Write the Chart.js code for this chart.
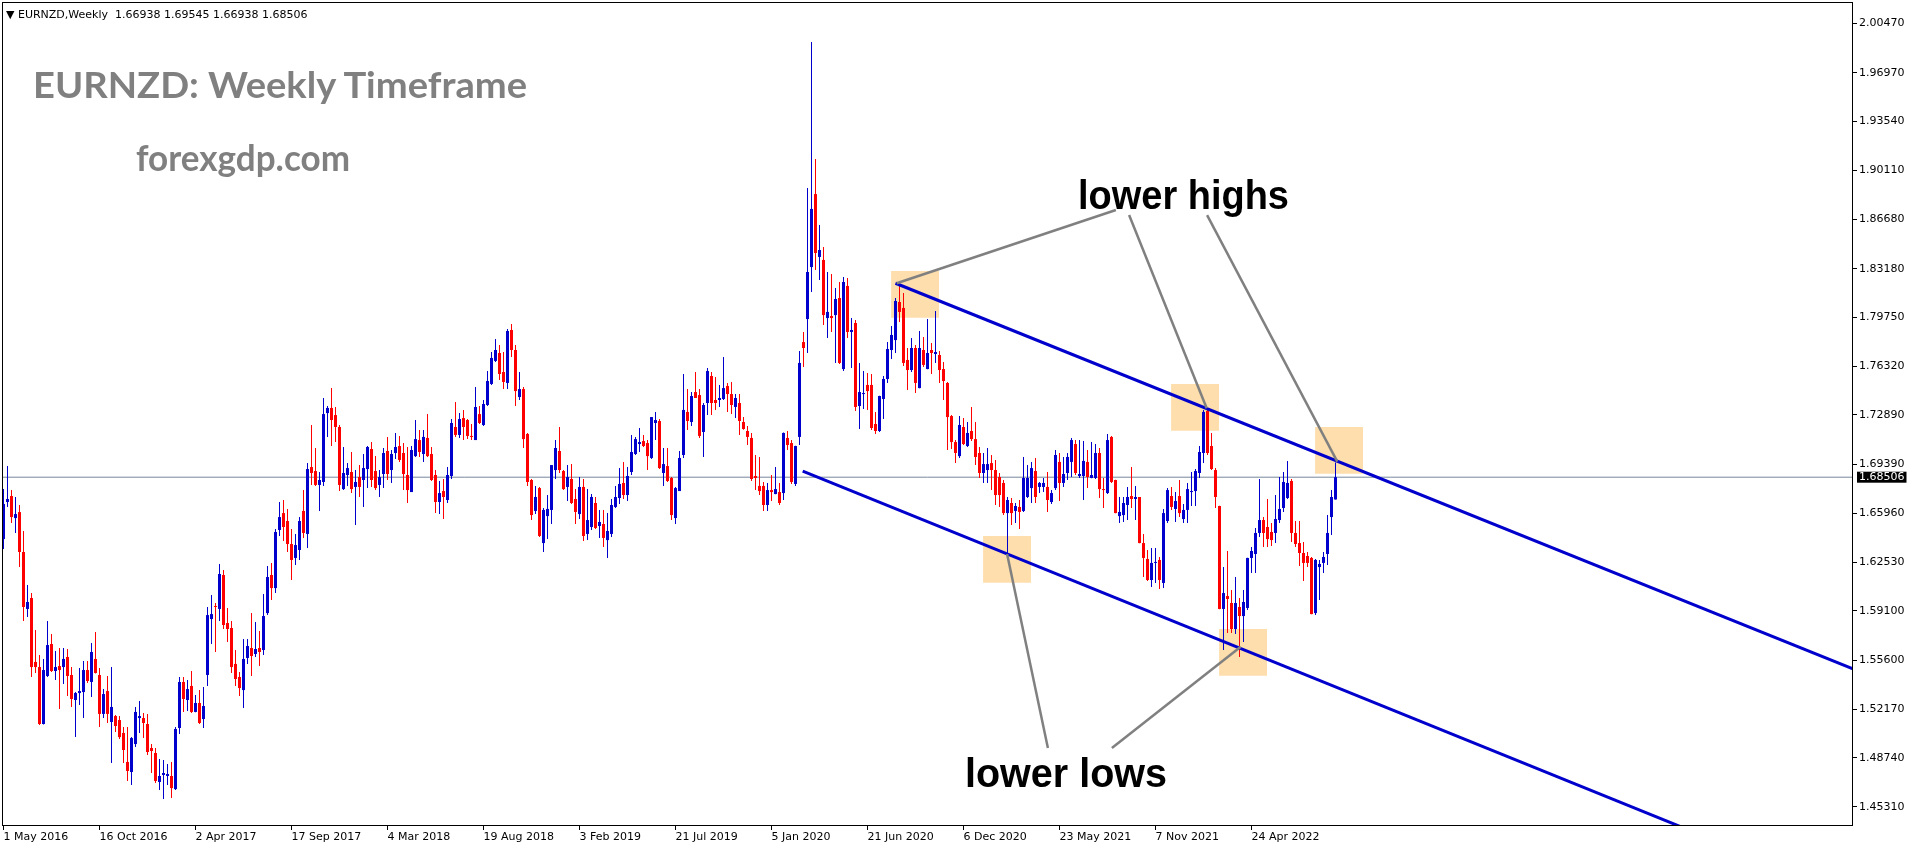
<!DOCTYPE html>
<html>
<head>
<meta charset="utf-8">
<title>EURNZD Weekly</title>
<script src="https://cdn.jsdelivr.net/npm/chart.js@4.4.1/dist/chart.umd.min.js"></script>
<style>
html,body{margin:0;padding:0;background:#fff;overflow:hidden;}
#wrap{position:relative;width:1916px;height:850px;background:#fff;}
#c{position:absolute;left:0;top:0;}
.t{position:absolute;white-space:nowrap;transform-origin:0 0;line-height:1;margin:0;}
#hdr{left:6px;top:8px;font:11px "DejaVu Sans",sans-serif;color:#000;}
#title{left:33px;top:62px;font:700 36px Lato,sans-serif;color:#808080;}
#site{left:136px;top:135px;font:700 36px Lato,sans-serif;color:#808080;}
#lh{left:1078px;top:172px;font:700 41px "Liberation Sans",Arial,sans-serif;color:#000;}
#ll{left:965px;top:750px;font:700 41px "Liberation Sans",Arial,sans-serif;color:#000;}
</style>
</head>
<body>
<div id="wrap">
<canvas id="c" width="1916" height="850"></canvas>
<div class="t" id="hdr">&#9660; EURNZD,Weekly&nbsp; 1.66938 1.69545 1.66938 1.68506</div>
<div class="t" id="title">EURNZD: Weekly Timeframe</div>
<div class="t" id="site">forexgdp.com</div>
<div class="t" id="lh">lower highs</div>
<div class="t" id="ll">lower lows</div>
</div>
<script>
// ---- weekly candles, first bar = week of 1 May 2016 ----
const open = [
1.6415,1.6676,1.6718,1.6563,1.6605,1.6324,1.5923,1.6000,1.5550,1.5514,
1.5113,1.5451,1.5676,1.5486,1.5521,1.5514,1.5585,1.5458,1.5282,1.5331,
1.5338,1.5493,1.5409,1.5571,1.5458,1.5184,1.5345,1.5127,1.5169,1.5141,
1.5050,1.4846,1.4775,1.4972,1.5155,1.5155,1.5113,1.4944,1.4909,1.4705,
1.4754,1.4747,1.4747,1.4655,1.5085,1.5409,1.5282,1.5381,1.5198,1.5261,
1.5148,1.5458,1.5852,1.5944,1.5923,1.6162,1.5824,1.5789,1.5536,1.5444,
1.5352,1.5578,1.5648,1.5606,1.5648,1.5634,1.5894,1.6162,1.6070,1.6479,
1.6598,1.6542,1.6380,1.6282,1.6338,1.6613,1.6451,1.6922,1.6894,1.6796,
1.6817,1.7302,1.7338,1.7288,1.7204,1.6767,1.6866,1.6887,1.6782,1.6852,
1.6831,1.6908,1.7049,1.6894,1.6796,1.6873,1.7035,1.6901,1.7021,1.7070,
1.7021,1.6866,1.6746,1.6999,1.7112,1.7014,1.7127,1.7014,1.6866,1.6676,
1.6753,1.6690,1.6859,1.7204,1.7148,1.7267,1.7253,1.7141,1.7112,1.7295,
1.7218,1.7359,1.7507,1.7669,1.7725,1.7591,1.7514,1.7887,1.7746,1.7415,
1.7471,1.7155,1.6831,1.6613,1.6774,1.6387,1.6577,1.6620,1.6901,1.7035,
1.6894,1.6782,1.6838,1.6697,1.6591,1.6782,1.6451,1.6500,1.6669,1.6507,
1.6521,1.6408,1.6451,1.6641,1.6704,1.6810,1.6725,1.6887,1.7014,1.7084,
1.7105,1.7091,1.6986,1.7232,1.7246,1.6880,1.6929,1.6845,1.6563,1.6753,
1.7007,1.7310,1.7239,1.7450,1.7429,1.7169,1.7373,1.7563,1.7394,1.7394,
1.7401,1.7493,1.7436,1.7345,1.7373,1.7239,1.7176,1.7127,1.6859,1.6789,
1.6789,1.6655,1.6760,1.6732,1.6746,1.6739,1.7127,1.7091,1.6803,1.7134,
1.7802,1.7964,1.8330,1.8844,1.8401,1.8380,1.7971,1.7985,1.7992,1.8112,
1.7612,1.8197,1.7873,1.7936,1.7352,1.7436,1.7500,1.7500,1.7225,1.7176,
1.7401,1.7542,1.7746,1.7816,1.8084,1.8042,1.7676,1.7605,1.7760,1.7478,
1.7746,1.7612,1.7746,1.7718,1.7711,1.7612,1.7514,1.7281,1.7098,1.6999,
1.7204,1.7070,1.7176,1.7119,1.7021,1.6880,1.6901,1.6950,1.6901,1.6852,
1.6810,1.6598,1.6669,1.6613,1.6641,1.6613,1.6711,1.6774,1.6894,1.6782,
1.6782,1.6782,1.6676,1.6774,1.6958,1.6810,1.6880,1.6958,1.7084,1.6859,
1.6859,1.6958,1.6845,1.6845,1.7021,1.6767,1.6739,1.7134,1.6831,1.6577,
1.6584,1.6655,1.6718,1.6697,1.6711,1.6387,1.6275,1.6127,1.6247,1.6268,
1.6106,1.6542,1.6718,1.6627,1.6718,1.6556,1.6620,1.6746,1.6753,1.6880,
1.7021,1.7317,1.7070,1.6901,1.6648,1.5923,1.6014,1.5965,1.5782,1.5937,
1.5873,1.5930,1.6282,1.6310,1.6458,1.6549,1.6500,1.6465,1.6458,1.6549,
1.6634,1.6704,1.6824,1.6458,1.6387,1.6317,1.6296,1.6282,1.5894,1.6218,
1.6247,1.6310,1.6570,1.66938];
const high = [
1.6767,1.6929,1.6760,1.6711,1.6655,1.6472,1.6092,1.6035,1.5775,1.5599,
1.5571,1.5838,1.5747,1.5627,1.5648,1.5648,1.5641,1.5514,1.5338,1.5507,
1.5557,1.5557,1.5683,1.5761,1.5507,1.5359,1.5451,1.5514,1.5177,1.5169,
1.5092,1.5092,1.5021,1.5233,1.5275,1.5191,1.5184,1.4972,1.4944,1.4867,
1.4860,1.4832,1.4846,1.5092,1.5444,1.5444,1.5423,1.5486,1.5317,1.5352,
1.5373,1.5937,1.6021,1.5965,1.6240,1.6197,1.5930,1.5838,1.5634,1.5479,
1.5711,1.5711,1.5894,1.5831,1.5768,1.6028,1.6225,1.6247,1.6486,1.6676,
1.6690,1.6627,1.6486,1.6451,1.6570,1.6760,1.6950,1.7218,1.7056,1.6887,
1.7408,1.7352,1.7478,1.7345,1.7218,1.7063,1.6950,1.7028,1.6901,1.6936,
1.7014,1.7070,1.7098,1.6999,1.6901,1.7056,1.7134,1.7042,1.7162,1.7141,
1.7091,1.7063,1.7070,1.7253,1.7183,1.7183,1.7295,1.7063,1.6901,1.6824,
1.6838,1.6922,1.7260,1.7380,1.7302,1.7324,1.7260,1.7225,1.7486,1.7352,
1.7394,1.7598,1.7732,1.7823,1.7781,1.7732,1.7894,1.7929,1.7781,1.7591,
1.7486,1.7162,1.6838,1.6789,1.6782,1.6634,1.6725,1.6936,1.7112,1.7204,
1.6901,1.6936,1.6943,1.6767,1.6852,1.6838,1.6767,1.6732,1.6711,1.6620,
1.6620,1.6598,1.6697,1.6789,1.6915,1.6958,1.6922,1.7148,1.7134,1.7197,
1.7148,1.7112,1.7274,1.7310,1.7260,1.7056,1.7056,1.6852,1.6782,1.7035,
1.7577,1.7471,1.7450,1.7591,1.7471,1.7373,1.7619,1.7591,1.7556,1.7500,
1.7697,1.7514,1.7521,1.7436,1.7436,1.7274,1.7211,1.7162,1.7007,1.6993,
1.6817,1.6810,1.6866,1.6922,1.6810,1.7165,1.7176,1.7112,1.7072,1.7739,
1.7873,1.8886,1.9914,1.9091,1.8626,1.8471,1.8295,1.8281,1.8182,1.8225,
1.8260,1.8253,1.7971,1.7957,1.7655,1.7598,1.7584,1.7577,1.7310,1.7424,
1.7563,1.7802,1.7915,1.8112,1.8204,1.8147,1.7760,1.7830,1.7781,1.7880,
1.7837,1.7964,1.7795,1.8021,1.7739,1.7662,1.7521,1.7288,1.7112,1.7281,
1.7267,1.7239,1.7345,1.7239,1.7063,1.7021,1.7056,1.7007,1.6972,1.6880,
1.6831,1.6711,1.6704,1.6669,1.6690,1.6993,1.6936,1.6958,1.6986,1.6817,
1.6845,1.6887,1.6760,1.7042,1.7021,1.6993,1.7021,1.7127,1.7112,1.7112,
1.7105,1.7042,1.7098,1.7084,1.7056,1.6845,1.7155,1.7141,1.6832,1.6711,
1.6711,1.6782,1.6922,1.6789,1.6712,1.6451,1.6338,1.6352,1.6352,1.6289,
1.6627,1.6774,1.6782,1.6746,1.6831,1.6662,1.6810,1.6887,1.6908,1.7070,
1.7324,1.7324,1.7162,1.6915,1.6650,1.6218,1.6331,1.6056,1.6148,1.6000,
1.6056,1.6284,1.6359,1.6493,1.6838,1.6570,1.6697,1.6528,1.6725,1.6852,
1.6887,1.6965,1.6838,1.6542,1.6542,1.6394,1.6324,1.6289,1.6275,1.6268,
1.6324,1.6584,1.6760,1.69545];
const low = [
1.6345,1.6641,1.6528,1.6458,1.6218,1.5838,1.5866,1.5444,1.5472,1.5106,
1.5110,1.5444,1.5479,1.5423,1.5219,1.5395,1.5310,1.5233,1.5021,1.5247,
1.5155,1.5402,1.5303,1.5468,1.5092,1.5155,1.5120,1.4839,1.5057,1.5007,
1.4839,1.4712,1.4684,1.4951,1.5050,1.5014,1.4895,1.4768,1.4698,1.4648,
1.4585,1.4684,1.4592,1.4648,1.5043,1.5198,1.5205,1.5191,1.5195,1.5113,
1.5085,1.5381,1.5676,1.5620,1.5838,1.5782,1.5690,1.5472,1.5381,1.5310,
1.5226,1.5536,1.5451,1.5585,1.5521,1.5599,1.5880,1.5986,1.6035,1.6437,
1.6401,1.6324,1.6127,1.6233,1.6268,1.6423,1.6352,1.6796,1.6789,1.6613,
1.6789,1.7134,1.7070,1.7098,1.6753,1.6760,1.6789,1.6739,1.6514,1.6711,
1.6641,1.6774,1.6782,1.6760,1.6711,1.6774,1.6831,1.6810,1.6979,1.6958,
1.6760,1.6669,1.6746,1.6993,1.6993,1.6958,1.6993,1.6824,1.6598,1.6591,
1.6556,1.6669,1.6838,1.7134,1.7127,1.7112,1.7119,1.7112,1.7112,1.7225,
1.7211,1.7352,1.7500,1.7662,1.7535,1.7471,1.7471,1.7697,1.7352,1.7394,
1.7056,1.6789,1.6549,1.6591,1.6430,1.6324,1.6415,1.6521,1.6838,1.6880,
1.6760,1.6683,1.6662,1.6521,1.6556,1.6401,1.6408,1.6479,1.6486,1.6423,
1.6359,1.6282,1.6430,1.6634,1.6662,1.6697,1.6683,1.6866,1.7007,1.7028,
1.7063,1.6901,1.6979,1.7112,1.6908,1.6789,1.6817,1.6549,1.6521,1.6753,
1.6986,1.7183,1.7211,1.7408,1.7127,1.6993,1.7288,1.7288,1.7324,1.7345,
1.7394,1.7310,1.7295,1.7267,1.7148,1.7185,1.7077,1.6824,1.6760,1.6725,
1.6613,1.6613,1.6683,1.6730,1.6655,1.6690,1.7042,1.6803,1.6789,1.7077,
1.7626,1.7725,1.8154,1.8309,1.8239,1.7922,1.7830,1.7873,1.7655,1.7648,
1.7598,1.7830,1.7619,1.7317,1.7190,1.7331,1.7324,1.7183,1.7155,1.7169,
1.7260,1.7514,1.7683,1.7725,1.7943,1.7634,1.7464,1.7591,1.7443,1.7476,
1.7626,1.7610,1.7577,1.7655,1.7514,1.7394,1.7042,1.7049,1.6950,1.6986,
1.7077,1.7063,1.7105,1.6936,1.6845,1.6810,1.6810,1.6760,1.6655,1.6641,
1.6584,1.6303,1.6514,1.6528,1.6486,1.6606,1.6704,1.6669,1.6669,1.6739,
1.6746,1.6606,1.6662,1.6760,1.6683,1.6782,1.6831,1.6852,1.6866,1.6845,
1.6690,1.6774,1.6843,1.6838,1.6704,1.6634,1.6732,1.6810,1.6596,1.6528,
1.6535,1.6549,1.6634,1.6549,1.6385,1.6148,1.6120,1.6077,1.6106,1.6063,
1.6070,1.6528,1.6620,1.6535,1.6570,1.6528,1.6528,1.6648,1.6648,1.6845,
1.6950,1.7007,1.6901,1.6634,1.5921,1.5634,1.5754,1.5754,1.5747,1.5585,
1.5690,1.5916,1.6176,1.6176,1.6430,1.6359,1.6359,1.6366,1.6387,1.6528,
1.6606,1.6697,1.6394,1.6359,1.6225,1.6120,1.6218,1.5885,1.5880,1.5986,
1.6176,1.6233,1.6444,1.66938];
const close = [
1.6662,1.6697,1.6570,1.6591,1.6324,1.5937,1.5972,1.5514,1.5514,1.5113,
1.5493,1.5669,1.5486,1.5514,1.5493,1.5571,1.5451,1.5289,1.5331,1.5345,
1.5493,1.5416,1.5620,1.5472,1.5184,1.5324,1.5184,1.5233,1.5099,1.5021,
1.4930,1.4782,1.5014,1.5198,1.5169,1.5120,1.4916,1.4923,1.4712,1.4747,
1.4768,1.4761,1.4662,1.5078,1.5409,1.5289,1.5359,1.5198,1.5261,1.5120,
1.5240,1.5880,1.5887,1.5937,1.6169,1.5810,1.5782,1.5514,1.5430,1.5366,
1.5571,1.5662,1.5592,1.5641,1.5620,1.5873,1.6148,1.6070,1.6465,1.6570,
1.6500,1.6380,1.6268,1.6373,1.6542,1.6458,1.6908,1.6880,1.6796,1.6831,
1.7295,1.7338,1.7253,1.7204,1.6796,1.6880,1.6915,1.6767,1.6817,1.6782,
1.6915,1.7063,1.6831,1.6774,1.6852,1.7021,1.6873,1.7014,1.7063,1.6972,
1.6873,1.6760,1.7042,1.7119,1.7028,1.7134,1.6999,1.6831,1.6676,1.6739,
1.6711,1.6866,1.7232,1.7148,1.7260,1.7204,1.7141,1.7134,1.7345,1.7232,
1.7366,1.7528,1.7690,1.7746,1.7577,1.7521,1.7880,1.7746,1.7457,1.7471,
1.7119,1.6817,1.6584,1.6711,1.6437,1.6620,1.6627,1.6936,1.7056,1.6901,
1.6767,1.6852,1.6669,1.6606,1.6782,1.6437,1.6549,1.6711,1.6493,1.6535,
1.6423,1.6472,1.6655,1.6711,1.6803,1.6725,1.6859,1.7028,1.7119,1.7098,
1.7070,1.6999,1.7274,1.7253,1.6915,1.6943,1.6824,1.6584,1.6774,1.6986,
1.7324,1.7246,1.7422,1.7408,1.7141,1.7359,1.7598,1.7373,1.7373,1.7408,
1.7478,1.7436,1.7359,1.7408,1.7246,1.7190,1.7134,1.6838,1.6845,1.6753,
1.6655,1.6760,1.6746,1.6767,1.6669,1.7162,1.7077,1.6817,1.7070,1.7655,
1.7760,1.8295,1.8739,1.8429,1.8450,1.7992,1.8014,1.7971,1.8105,1.7655,
1.8225,1.7873,1.7887,1.7345,1.7450,1.7443,1.7457,1.7197,1.7176,1.7422,
1.7542,1.7753,1.7852,1.8091,1.8014,1.7655,1.7605,1.7760,1.7514,1.7760,
1.7641,1.7725,1.7725,1.7732,1.7605,1.7528,1.7274,1.7098,1.7021,1.7218,
1.7084,1.7162,1.7119,1.6993,1.6880,1.6943,1.6943,1.6901,1.6725,1.6725,
1.6598,1.6690,1.6598,1.6648,1.6606,1.6845,1.6845,1.6915,1.6711,1.6810,
1.6810,1.6690,1.6739,1.7007,1.6810,1.6873,1.6993,1.7112,1.6880,1.6873,
1.6965,1.6852,1.6866,1.7021,1.6767,1.6760,1.7112,1.6817,1.6598,1.6606,
1.6669,1.6711,1.6697,1.6711,1.6387,1.6282,1.6127,1.6247,1.6254,1.6127,
1.6598,1.6760,1.6641,1.6683,1.6598,1.6620,1.6767,1.6753,1.6894,1.7028,
1.7310,1.7021,1.6908,1.6711,1.5923,1.6035,1.5993,1.5782,1.5965,1.5873,
1.5972,1.6282,1.6331,1.6458,1.6549,1.6458,1.6415,1.6408,1.6556,1.6627,
1.6817,1.6810,1.6458,1.6380,1.6317,1.6247,1.6247,1.5887,1.6268,1.6240,
1.6289,1.6458,1.6711,1.68506];
const lastPrice = 1.68506;

// ---- axes ----
const dateLabels = ["1 May 2016","16 Oct 2016","2 Apr 2017","17 Sep 2017","4 Mar 2018","19 Aug 2018","3 Feb 2019","21 Jul 2019","5 Jan 2020","21 Jun 2020","6 Dec 2020","23 May 2021","7 Nov 2021","24 Apr 2022"];
const dateBarIndex = [0,24,48,72,96,120,144,168,192,216,240,264,288,312];
const priceTicks = [1.45310,1.48740,1.52170,1.55600,1.59100,1.62530,1.65960,1.69390,1.72890,1.76320,1.79750,1.83180,1.86680,1.90110,1.93540,1.96970,2.00470];
const X_MIN = -0.375, X_MAX = 462.375;
const Y_MIN = 1.4395, Y_MAX = 2.0196;

// ---- drawings (bar index, price) ----
const upperChannelX = [223.0, 470.0];
const upperChannelY = [1.8216, 1.5414];
const lowerChannelX = [199.8, 430.0];
const lowerChannelY = [1.6894, 1.4268];
const zoneX0 = [221.9, 291.9, 327.9, 303.9, 244.9];
const zoneX1 = [233.9, 303.9, 339.9, 315.9, 256.9];
const zoneLo = [1.7973, 1.7178, 1.6875, 1.5453, 1.6108];
const zoneHi = [1.8302, 1.7507, 1.7204, 1.5782, 1.6437];
const pointerX0 = [278.1, 281.4, 300.9, 261.1, 277.1];
const pointerY0 = [1.8732, 1.8696, 1.8696, 1.4944, 1.4944];
const pointerX1 = [223.3, 300.8, 333.45, 250.9, 309.3];
const pointerY1 = [1.8216, 1.7336, 1.6960, 1.6310, 1.5657];

const BULL = '#0000CD', BEAR = '#FF0000';
const idx = open.map((_, i) => i);
const wickData = idx.map(i => ({x: i, y: [low[i], high[i]]}));
const bodyData = idx.map(i => ({x: i, y: [open[i], close[i]]}));
const colorOf = i => (close[i] >= open[i] ? BULL : BEAR);

const datasets = [];
for (let k = 0; k < zoneX0.length; k++) {
  datasets.push({type:'line', data:[{x:zoneX0[k], y:zoneHi[k]}, {x:zoneX1[k], y:zoneHi[k]}],
    borderColor:'rgba(0,0,0,0)', borderWidth:0, pointRadius:0, fill:{value: zoneLo[k]},
    backgroundColor:'#FDDEAC', order:10});
}
datasets.push({type:'line', data:[{x:X_MIN, y:lastPrice}, {x:X_MAX, y:lastPrice}],
  borderColor:'#76879A', borderWidth:1, pointRadius:0, fill:false, order:9});
datasets.push({type:'bar', data:wickData, backgroundColor:c => colorOf(c.dataIndex),
  barThickness:1, grouped:false, borderWidth:0, inflateAmount:0, order:8});
datasets.push({type:'bar', data:bodyData, backgroundColor:c => colorOf(c.dataIndex),
  barThickness:3, minBarLength:1, grouped:false, borderWidth:0, inflateAmount:0, order:7});
datasets.push({type:'line', data:upperChannelX.map((x, k) => ({x, y:upperChannelY[k]})),
  borderColor:'#0000CD', borderWidth:3, pointRadius:0, fill:false, order:2});
datasets.push({type:'line', data:lowerChannelX.map((x, k) => ({x, y:lowerChannelY[k]})),
  borderColor:'#0000CD', borderWidth:3, pointRadius:0, fill:false, order:2});
for (let k = 0; k < pointerX0.length; k++) {
  datasets.push({type:'line', data:[{x:pointerX0[k], y:pointerY0[k]}, {x:pointerX1[k], y:pointerY1[k]}],
    borderColor:'#808080', borderWidth:2.5, pointRadius:0, fill:false, order:1});
}

const frame = {
  id:'frame',
  afterDatasetsDraw(chart) {
    const {ctx, chartArea:a} = chart;
    ctx.save();
    ctx.strokeStyle = '#000'; ctx.lineWidth = 1;
    ctx.strokeRect(a.left + 0.5, a.top + 0.5, a.right - a.left - 1, a.bottom - a.top - 1);
    ctx.restore();
  }
};

const axisFont = {family:'DejaVu Sans', size:11, lineHeight:1};
new Chart(document.getElementById('c'), {
  type:'bar',
  data:{datasets},
  plugins:[frame],
  options:{
    responsive:false, animation:false, devicePixelRatio:1, events:[],
    layout:{padding:{left:2, top:2, right:0, bottom:0}},
    plugins:{legend:{display:false}, tooltip:{enabled:false}},
    scales:{
      x:{type:'linear', min:X_MIN, max:X_MAX, offset:false,
        grid:{display:true, drawOnChartArea:false, drawTicks:true, tickLength:4, tickColor:'#000', offset:false},
        border:{display:false},
        ticks:{autoSkip:false, maxRotation:0, minRotation:0, align:'start', padding:2, color:'#000', font:axisFont,
          callback:(v, i) => dateLabels[i]},
        afterBuildTicks:s => { s.ticks = dateBarIndex.map(v => ({value:v})); },
        afterFit:s => { s.height = 24; s.paddingLeft = 0; s.paddingRight = 0; }
      },
      y:{type:'linear', position:'right', min:Y_MIN, max:Y_MAX,
        grid:{display:true, drawOnChartArea:false, drawTicks:true, tickLength:4,
          tickColor:c => (c.tick && c.tick.value === lastPrice ? 'rgba(0,0,0,0)' : '#000')},
        border:{display:false},
        ticks:{autoSkip:false, padding:2, font:axisFont,
          color:c => (c.tick && c.tick.value === lastPrice ? '#fff' : '#000'),
          showLabelBackdrop:c => !!(c.tick && c.tick.value === lastPrice),
          backdropColor:'#000', backdropPadding:{left:2, right:2, top:0, bottom:0},
          callback:v => Number(v).toFixed(5)},
        afterBuildTicks:s => {
          const all = priceTicks.concat([lastPrice]).sort((a, b) => a - b);
          s.ticks = all.map(v => ({value:v}));
        },
        afterFit:s => { s.width = 63; s.paddingTop = 0; s.paddingBottom = 0; }
      }
    }
  }
});

// ---- fit annotation text widths to the reference ----
const textWidths = [['title', 494], ['site', 214], ['lh', 211], ['ll', 202]];
function fitAll() {
  textWidths.forEach(([id, w]) => {
    const el = document.getElementById(id);
    el.style.transform = 'none';
    const r = el.getBoundingClientRect().width;
    if (r > 0) el.style.transform = 'scaleX(' + (w / r) + ')';
  });
}
fitAll();
if (document.fonts && document.fonts.ready) document.fonts.ready.then(fitAll);
</script>
</body>
</html>
